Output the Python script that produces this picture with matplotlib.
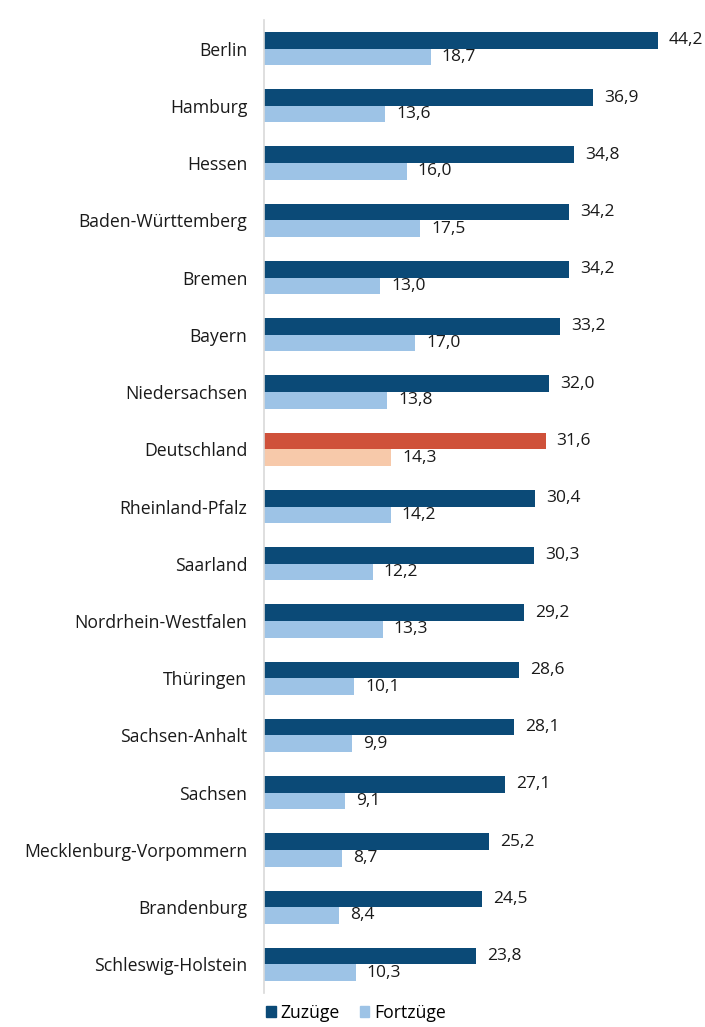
import matplotlib
matplotlib.use("Agg")
import matplotlib.pyplot as plt
from matplotlib.patches import Patch

categories = ["Berlin", "Hamburg", "Hessen", "Baden-Württemberg", "Bremen", "Bayern",
              "Niedersachsen", "Deutschland", "Rheinland-Pfalz", "Saarland",
              "Nordrhein-Westfalen", "Thüringen", "Sachsen-Anhalt", "Sachsen",
              "Mecklenburg-Vorpommern", "Brandenburg", "Schleswig-Holstein"]
zuzuege = [44.2, 36.9, 34.8, 34.2, 34.2, 33.2, 32.0, 31.6, 30.4, 30.3, 29.2, 28.6, 28.1, 27.1, 25.2, 24.5, 23.8]
fortzuege = [18.7, 13.6, 16.0, 17.5, 13.0, 17.0, 13.8, 14.3, 14.2, 12.2, 13.3, 10.1, 9.9, 9.1, 8.7, 8.4, 10.3]
highlight = "Deutschland"

plt.rcParams['font.family'] = ['Open Sans', 'DejaVu Sans']

dark = "#0b4a77"
light = "#9dc3e6"
hl_dark = "#cf513a"
hl_light = "#f7c9aa"
txt = "#1a1a1a"

fig = plt.figure(figsize=(7.05, 10.27), dpi=100)
ax = fig.add_axes([264/705, 1-993/1027, (698-264)/705, (993-20)/1027])

h = 0.29
ys = list(range(len(categories)))
c1 = [hl_dark if c == highlight else dark for c in categories]
c2 = [hl_light if c == highlight else light for c in categories]
ax.barh([y - h/2 for y in ys], zuzuege, height=h, color=c1)
ax.barh([y + h/2 for y in ys], fortzuege, height=h, color=c2)

for y, a, b in zip(ys, zuzuege, fortzuege):
    ax.annotate(f"{a:.1f}".replace(".", ","), (a, y - h/2), xytext=(8, 0),
                textcoords="offset points", va="center", ha="left", fontsize=12.5, color=txt)
    ax.annotate(f"{b:.1f}".replace(".", ","), (b, y + h/2), xytext=(8, 0),
                textcoords="offset points", va="center", ha="left", fontsize=12.5, color=txt)

ax.set_ylim(len(categories) - 0.5, -0.5)
ax.set_xlim(0, (698-264)/8.91)
ax.set_yticks(ys)
ax.set_yticklabels(categories, fontsize=12.7, color=txt)
ax.tick_params(axis='y', length=0, pad=12)
ax.set_xticks([])
for s in ["top", "right", "bottom"]:
    ax.spines[s].set_visible(False)
ax.spines["left"].set_color("#d9d9d9")
ax.spines["left"].set_linewidth(1.2)

handles = [Patch(color=dark, label="Zuzüge"), Patch(color=light, label="Fortzüge")]
fig.legend(handles=handles, loc="center left", bbox_to_anchor=(250/705, 1-1013/1027),
           ncol=2, frameon=False, fontsize=12.7, handlelength=0.55, handleheight=0.55,
           handletextpad=0.3, columnspacing=1.1)

fig.savefig("out.png", dpi=100)
